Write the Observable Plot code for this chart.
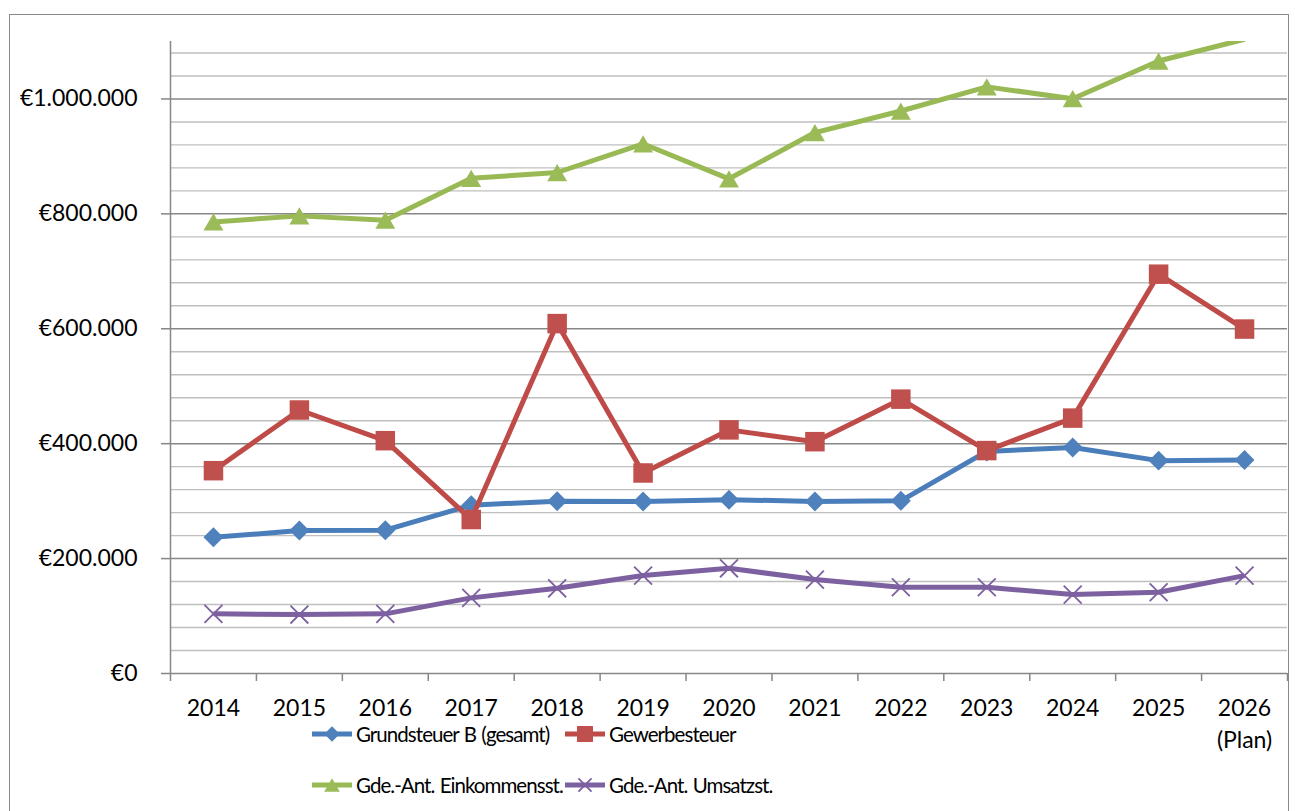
<!DOCTYPE html>
<html>
<head>
<meta charset="utf-8">
<script src="https://cdn.jsdelivr.net/npm/d3@7"></script>
<script src="https://cdn.jsdelivr.net/npm/@observablehq/plot@0.6"></script>
<style>
html, body { margin: 0; padding: 0; background: #fff; overflow: hidden; }
#wrap { position: relative; width: 1295px; height: 811px; font-family: Lato, sans-serif; }
#chart { position: absolute; left: 0; top: 0; }
#frame { position: absolute; left: 9px; top: 14px; width: 1280px; height: 840px; border: 1.3px solid #8a8a8a; box-sizing: border-box; pointer-events: none; }
#legend { position: absolute; left: 312px; top: 708px; display: grid; grid-template-columns: 253px auto; grid-auto-rows: 51px; font-size: 20.5px; letter-spacing: -0.95px; word-spacing: 1px; color: #000; }
.item { display: flex; align-items: center; white-space: nowrap; }
.item svg { margin-right: 4px; flex: none; }
</style>
</head>
<body>
<div id="wrap">
  <div id="chart"></div>
  <div id="legend"></div>
  <div id="frame"></div>
</div>
<script>
// ---- data ----
const categories = ["2014", "2015", "2016", "2017", "2018", "2019", "2020", "2021", "2022", "2023", "2024", "2025", "2026\n(Plan)"];
const seriesNames = ["Grundsteuer B (gesamt)", "Gewerbesteuer", "Gde.-Ant. Einkommensst.", "Gde.-Ant. Umsatzst."];
const grundsteuerB = [237000, 248700, 249500, 293000, 300000, 299500, 302500, 299500, 300500, 386500, 393500, 370500, 371500];
const gewerbesteuer = [353000, 458600, 405200, 268000, 609000, 349000, 424000, 403500, 477500, 388000, 444500, 695000, 599500];
const einkommensst = [786000, 796500, 789000, 862000, 872000, 922000, 861000, 941500, 979000, 1021000, 1000500, 1066000, 1104000];
const umsatzst = [103800, 102600, 103800, 131600, 148300, 170400, 183100, 163500, 150100, 150100, 137400, 141400, 170400];
const yMax = 1100000;
const majorTicks = d3.range(0, yMax + 1, 200000);
const minorTicks = d3.range(0, yMax + 1, 40000).filter(v => v % 200000 !== 0);

// ---- styles ----
const styles = [
  {line: "#4a7ebb", fill: "#4f81bd", symbol: "diamond2", r: 9, lr: 7, dy: 0},
  {line: "#be4b48", fill: "#c0504d", symbol: "square", r: 11, lr: 9, dy: 0},
  {line: "#98b954", fill: "#9bbb59", symbol: "triangle", r: 7.4, lr: 5.8, dy: 2.9},
  {line: "#7d60a0", fill: "none", stroke: "#7d60a0", symbol: "times", r: 8.2, lr: 6, dy: 0}
];
const valuesList = [grundsteuerB, gewerbesteuer, einkommensst, umsatzst];
const series = seriesNames.map((name, k) => ({name, values: valuesList[k], ...styles[k]}));

const locale = d3.formatLocale({decimal: ",", thousands: ".", grouping: [3], currency: ["€", ""]});
const fmt = v => "€" + locale.format(",")(v);
const n = categories.length;
const boundaries = d3.range(n + 1).map(i => i - 0.5);
const gridColor = "#bfbfbf", axisColor = "#878787";

const seriesMarks = series.flatMap(s => {
  const rows = categories.map((c, i) => ({i, value: s.values[i]}));
  return [
    Plot.line(rows, {x: "i", y: "value", stroke: s.line, strokeWidth: 5, strokeLinejoin: "round", strokeLinecap: "butt", clip: true}),
    Plot.dot(rows.filter(d => d.value <= yMax), {
      x: "i", y: "value", symbol: s.symbol, r: s.r, dy: s.dy,
      fill: s.fill, stroke: s.stroke || "none", strokeWidth: s.stroke ? 1.8 : 0
    })
  ];
});

const chart = Plot.plot({
  width: 1295, height: 811,
  marginLeft: 170, marginRight: 8, marginTop: 41, marginBottom: 138,
  style: {fontFamily: "Lato, sans-serif", fontSize: "23px", color: "#000", background: "transparent", overflow: "visible"},
  x: {type: "linear", domain: [-0.5, n - 0.5]},
  y: {domain: [0, yMax]},
  marks: [
    Plot.ruleY(minorTicks, {stroke: gridColor, strokeWidth: 1.4}),
    Plot.ruleY(majorTicks, {stroke: axisColor, strokeWidth: 1.5}),
    Plot.ruleX([-0.5], {y1: 0, y2: yMax, stroke: axisColor, strokeWidth: 1.5}),
    Plot.axisY(majorTicks, {tickSize: 9, tickPadding: 24, tickFormat: fmt, stroke: axisColor, strokeWidth: 1.5, label: null, fontSize: 23, fill: "#000"}),
    Plot.axisX(boundaries, {tickSize: 8, tickFormat: () => "", stroke: axisColor, strokeWidth: 1.5, label: null}),
    Plot.axisX(d3.range(n), {tickSize: 0, tickPadding: 20, tickFormat: i => categories[i], label: null, fontSize: 23, fill: "#000", lineHeight: 1.38, lineAnchor: "top"}),
    ...seriesMarks
  ]
});
document.getElementById("chart").appendChild(chart);

// ---- legend ----
const symbolMap = {diamond2: d3.symbolDiamond2, square: d3.symbolSquare, triangle: d3.symbolTriangle, times: d3.symbolTimes};
const legend = d3.select("#legend");
series.forEach(s => {
  const item = legend.append("div").attr("class", "item");
  const svg = item.append("svg").attr("width", 40).attr("height", 24);
  svg.append("line").attr("x1", 0).attr("x2", 40).attr("y1", 12).attr("y2", 12)
    .attr("stroke", s.line).attr("stroke-width", 5);
  svg.append("path").attr("transform", `translate(20,${12 + s.dy * s.lr / s.r})`)
    .attr("d", d3.symbol(symbolMap[s.symbol], Math.PI * s.lr * s.lr)())
    .attr("fill", s.fill).attr("stroke", s.stroke || "none").attr("stroke-width", s.stroke ? 1.8 : 0);
  item.append("span").text(s.name);
});
</script>
</body>
</html>
